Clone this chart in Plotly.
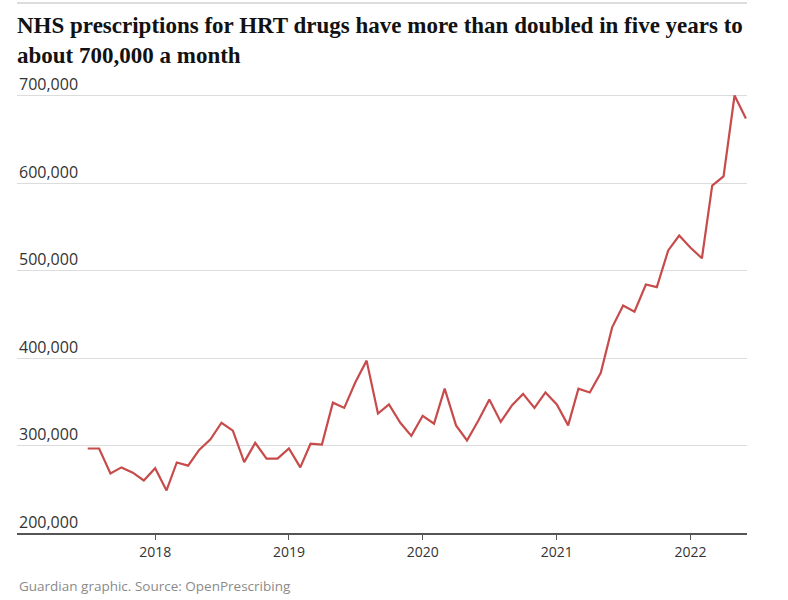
import pandas as pd
import plotly.graph_objects as go

# Miesięczne recepty HRT (NHS), lipiec 2017 - czerwiec 2022
months = pd.date_range("2017-07-01", "2022-06-01", freq="MS")
prescriptions = [
    296600, 296600, 268000, 275000, 269000, 260000,   # 2017 (lip-gru)
    274000, 248600, 280600, 277000, 295000, 307000,   # 2018
    326000, 317000, 281000, 303000, 285000, 285000,
    296600, 275000, 302000, 301000, 349000, 343000,   # 2019
    372000, 397000, 336600, 347000, 326000, 311000,
    334000, 325000, 365000, 323000, 305700, 328600,   # 2020
    352600, 327000, 346000, 359000, 343000, 360600,
    347000, 323000, 365000, 360600, 383000, 435000,   # 2021
    460000, 453000, 484000, 481000, 523000, 540000,
    526000, 514000, 597000, 607500, 700000, 673700,   # 2022
]

y_ticks = [200000, 300000, 400000, 500000, 600000, 700000]
x_ticks = ["2018-01-01", "2019-01-01", "2020-01-01", "2021-01-01", "2022-01-01"]
x_labels = ["2018", "2019", "2020", "2021", "2022"]

title = ("NHS prescriptions for HRT drugs have more than doubled in five years to"
         "<br>about 700,000 a month")
source = "Guardian graphic. Source: OpenPrescribing"

fig = go.Figure()
fig.add_trace(go.Scatter(
    x=months,
    y=prescriptions,
    mode="lines",
    line=dict(color="#c74b4b", width=2.2),
    hovertemplate="%{x|%b %Y}: %{y:,}<extra></extra>",
))

fig.update_layout(
    width=788,
    height=600,
    margin=dict(l=17, r=41, t=78, b=67),
    paper_bgcolor="white",
    plot_bgcolor="white",
    showlegend=False,
    font=dict(family="Open Sans", color="#121212"),
    title=dict(
        text=title,
        x=17 / 788,
        xanchor="left",
        y=1 - 33 / 600,
        yanchor="top",
        font=dict(family="Liberation Serif", size=23, color="#121212", weight="bold"),
    ),
)

fig.update_yaxes(
    range=[200000, 720000],
    tickvals=y_ticks,
    showticklabels=False,
    showgrid=True,
    gridcolor="#dcdcdc",
    gridwidth=1,
    zeroline=False,
    showline=False,
    ticks="",
    fixedrange=True,
)

fig.update_xaxes(
    range=["2016-12-20", "2022-06-04"],
    tickvals=x_ticks,
    ticktext=x_labels,
    tickfont=dict(size=14, color="#333333"),
    showgrid=False,
    zeroline=False,
    showline=True,
    linecolor="#555555",
    linewidth=1.5,
    ticks="outside",
    ticklen=5,
    tickcolor="#555555",
    tickwidth=1,
    fixedrange=True,
)

# etykiety osi Y nad liniami siatki
for v in y_ticks:
    fig.add_annotation(
        text=f"{v:,}", xref="paper", yref="y", x=0, y=v,
        xanchor="left", yanchor="middle", yshift=11.5, showarrow=False,
        font=dict(family="Open Sans", size=16, color="#333333"),
    )

# cienka linia nad tytułem
fig.add_shape(type="line", xref="paper", yref="paper",
              x0=0, x1=1, y0=(533 - 3) / 455, y1=(533 - 3) / 455,
              line=dict(color="#dcdcdc", width=2))

fig.add_annotation(
    text=source, xref="paper", yref="paper", x=0, y=-(586 - 533) / 455,
    xanchor="left", yanchor="middle", showarrow=False,
    font=dict(family="Open Sans", size=13.5, color="#8a8a8a"),
)

fig.write_html("out.html", config={"displayModeBar": False},
               post_script="document.body.style.margin='0';")
